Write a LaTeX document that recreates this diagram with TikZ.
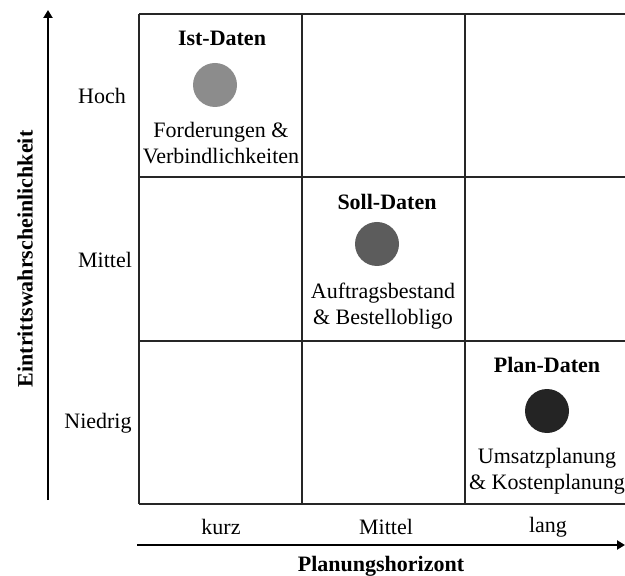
\documentclass[tikz,border=0pt]{standalone}
\usepackage{fontspec}
\setmainfont{Liberation Serif}
\usetikzlibrary{arrows.meta,positioning}

\begin{document}
\begin{tikzpicture}[
      x=0.5pt, y=-0.5pt,
      every node/.style={font=\fontsize{11}{13}\selectfont, inner sep=0pt},
      grid/.style={line width=1pt, black!85},
      axis/.style={-{Triangle[length=4pt,width=4.5pt]}, line width=1pt},
      dot/.style={circle, minimum size=22pt, inner sep=0pt},
      datum/.style={font=\fontsize{11}{13}\selectfont\bfseries},
      descr/.style={align=center},
      axtitle/.style={font=\fontsize{11}{13}\selectfont\bfseries}
    ]
    \useasboundingbox (0,0) rectangle (625,576);

    % matrix
    \foreach \x in {139,302,465}
      \draw[grid] (\x,14) -- (\x,504);
    \foreach \y in {14,177,341,504}
      \draw[grid] (139,\y) -- (628,\y);

    % axes
    \coordinate (ybot) at (48,500);
    \coordinate (ytop) at (48,10);
    \coordinate (xleft) at (137,545);
    \coordinate (xright) at (625,545);
    \draw[axis] (ybot) -- (ytop);
    \draw[axis] (xleft) -- (xright);

    \node[axtitle, rotate=90] (ylab) at (25,259) {Eintrittswahrscheinlichkeit};
    \node[axtitle] (xlab) at (381,566) {Planungshorizont};

    \node (hoch) at (102,96) {Hoch};
    \node (ymid) at (105,260) {Mittel};
    \node (niedrig) at (98,423) {Niedrig};

    \node (kurz) at (221,527) {kurz};
    \node (xmid) at (386,527) {Mittel};
    \node (lang) at (548,527) {lang};

    % cells
    \node[datum] (ist) at (222,38) {Ist-Daten};
    \node[dot, fill=black!45] (istdot) at (215,85) {};
    \node[descr] (isttxt) at (221,143) {Forderungen \&\\Verbindlichkeiten};

    \node[datum] (soll) at (387,202) {Soll-Daten};
    \node[dot, fill=black!64] (solldot) at (377,244) {};
    \node[descr] (solltxt) at (383,306) {Auftragsbestand\\\& Bestellobligo};

    \node[datum] (plan) at (547,365) {Plan-Daten};
    \node[dot, fill=black!86] (plandot) at (547,411) {};
    \node[descr] (plantxt) at (547,471) {Umsatzplanung\\\& Kostenplanung};
  \end{tikzpicture}
\end{document}
